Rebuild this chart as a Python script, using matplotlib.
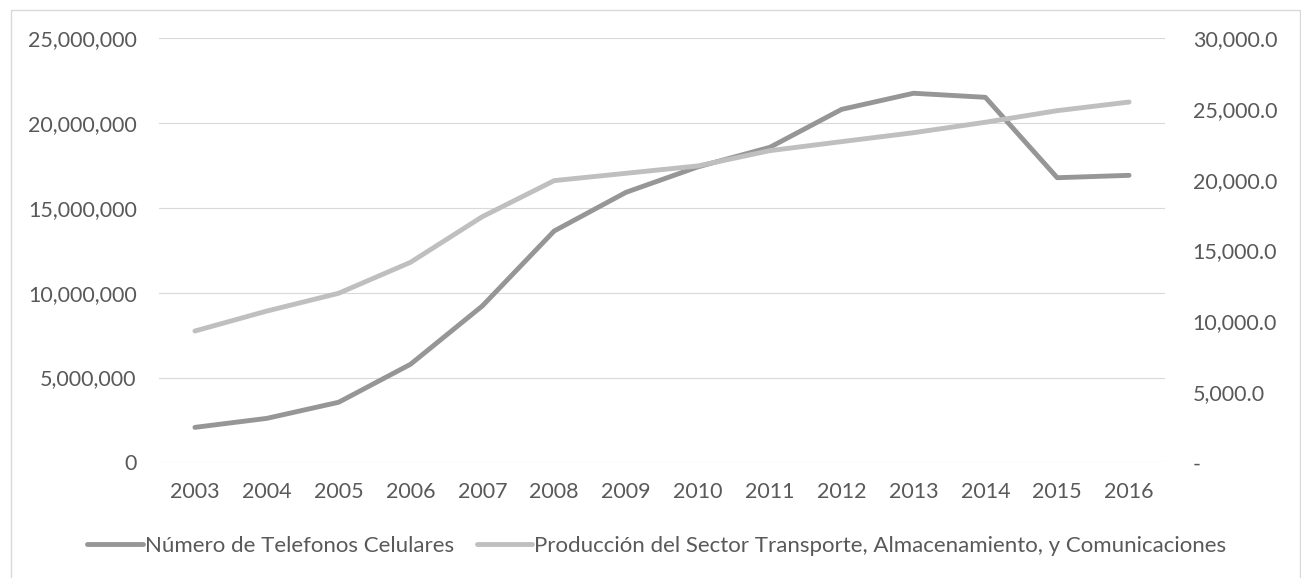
import matplotlib
matplotlib.use("Agg")
import matplotlib.pyplot as plt
import numpy as np
from matplotlib.ticker import FuncFormatter, MultipleLocator
from matplotlib.lines import Line2D

plt.rcParams['font.family'] = ['Lato', 'DejaVu Sans']

# datos
anios = ['2003', '2004', '2005', '2006', '2007', '2008', '2009',
         '2010', '2011', '2012', '2013', '2014', '2015', '2016']
telefonos = [2060000, 2590000, 3540000, 5780000, 9220000, 13640000, 15920000,
             17420000, 18570000, 20810000, 21760000, 21520000, 16780000, 16920000]
produccion = [9290, 10700, 11960, 14150, 17380, 19930, 20450,
              20970, 22050, 22690, 23320, 24060, 24880, 25490]

nombre_tel = 'Número de Telefonos Celulares'
nombre_prod = 'Producción del Sector Transporte, Almacenamiento, y Comunicaciones'

gris_txt = '#595959'
fs = 15.5
W, H = 1301, 578
fig = plt.figure(figsize=(W / 100, H / 100), dpi=100)

# posición del área de trazado (en píxeles del original)
x0, x1, y0, y1 = 159, 1165, 38.3, 462.3
ax = fig.add_axes([x0 / W, 1 - y1 / H, (x1 - x0) / W, (y1 - y0) / H])
ax2 = ax.twinx()

x = np.arange(len(anios))
ax.plot(x, telefonos, color='#969696', lw=3.5, solid_capstyle='round',
        solid_joinstyle='round', zorder=3)
ax2.plot(x, produccion, color='#BFBFBF', lw=3.5, solid_capstyle='round',
         solid_joinstyle='round', zorder=3)

ax.set_xlim(-0.5, len(anios) - 0.5)
ax.set_ylim(0, 25000000)
ax2.set_ylim(0, 30000)
ax.yaxis.set_major_locator(MultipleLocator(5000000))
ax2.yaxis.set_major_locator(MultipleLocator(5000))
ax.yaxis.set_major_formatter(FuncFormatter(lambda v, p: f'{v:,.0f}'))
ax2.yaxis.set_major_formatter(FuncFormatter(lambda v, p: '-' if v == 0 else f'{v:,.1f}'))

ax.set_xticks(x)
ax.set_xticklabels(anios)

ax.grid(axis='y', color='#D9D9D9', lw=0.8)
ax.set_axisbelow(True)
for a in (ax, ax2):
    for s in a.spines.values():
        s.set_visible(False)
ax.tick_params(axis='y', length=0, pad=16, labelsize=fs, labelcolor=gris_txt)
ax.tick_params(axis='x', length=0, pad=14, labelsize=fs, labelcolor=gris_txt)
ax2.tick_params(axis='y', length=0, pad=20, labelsize=fs, labelcolor=gris_txt)

# leyenda
handles = [Line2D([], [], color='#969696', lw=3.5, solid_capstyle='round'),
           Line2D([], [], color='#BFBFBF', lw=3.5, solid_capstyle='round')]
fig.legend(handles, [nombre_tel, nombre_prod], loc='center',
           bbox_to_anchor=(0.505, 1 - 546 / H), ncol=2, frameon=False,
           handlelength=2.5, handletextpad=0.1, columnspacing=1.0,
           fontsize=16, labelcolor=gris_txt)

# borde del área del gráfico
fig.add_artist(plt.Rectangle((11 / W, -0.1), (W - 12) / W, 1.1 - 10 / H,
                             transform=fig.transFigure, fill=False,
                             edgecolor='#D9D9D9', lw=1))

fig.savefig('out.png', dpi=100, facecolor='white')
